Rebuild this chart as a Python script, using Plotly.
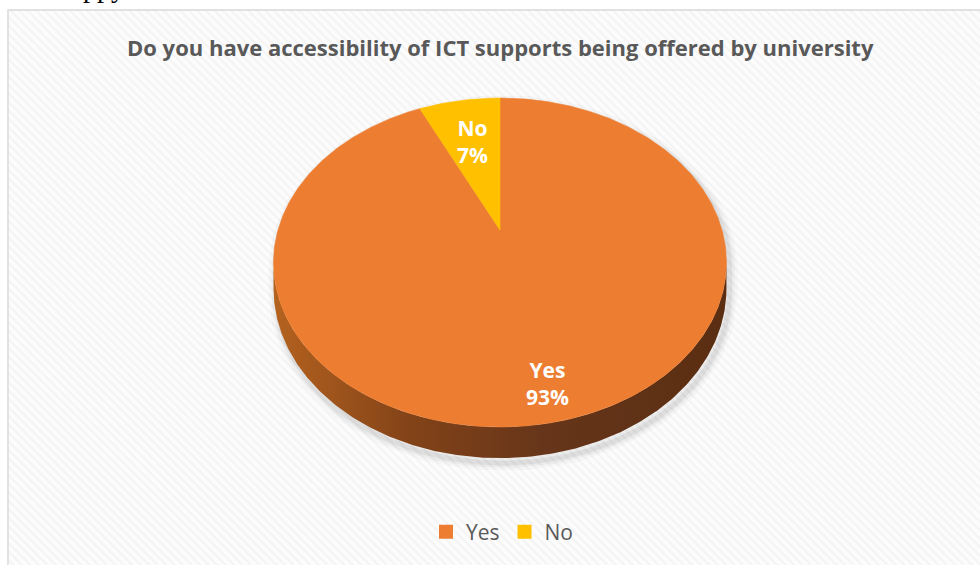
import math
import plotly.graph_objects as go

# ---- data ----
categories = ["Yes", "No"]
values = [93, 7]
colors = ["#ED7D31", "#FFC000"]
title_text = "Do you have accessibility of ICT supports being offered by university"

# ---- 3D pie geometry (pixel space, perspective disc) ----
W, H = 980, 565
CX, CY = 500.0, 230.0      # projected centre of the top face
A = 222.0                  # horizontal scale
E = 112.6                  # vertical scale
G = -0.1976                # perspective factor (near side larger)
DEPTH = 25.0               # extrusion thickness
label_radius = {"Yes": 0.83, "No": 0.65}


def project(theta_deg, r=1.0, depth=0.0):
    t = math.radians(theta_deg)
    u = r * math.sin(t)
    v = -r * math.cos(t)
    den = 1.0 + G * v
    x = CX + A * u / den
    y = (E * v + CY) / den + depth / den
    return x, y


def arc(a0, a1, depth=0.0, step=0.5):
    n = max(2, int(abs(a1 - a0) / step) + 1)
    pts = [project(a0 + (a1 - a0) * i / (n - 1), 1.0, depth) for i in range(n)]
    return [p[0] for p in pts], [p[1] for p in pts]


# find the leftmost / rightmost points of the top rim (silhouette tangents)
best_r, best_l = 90.0, 270.0
mx, mn = -1e9, 1e9
for i in range(0, 3600):
    th = i / 10.0
    x, _ = project(th)
    if x > mx:
        mx, best_r = x, th
    if x < mn:
        mn, best_l = x, th

fig = go.Figure()

# chart area background with fine diagonal texture
fig.add_trace(go.Scatter(
    x=[8, 990, 990, 8, 8], y=[10, 10, 575, 575, 10],
    mode="lines", fill="toself", line=dict(width=0),
    fillcolor="#fbfbfb",
    fillpattern=dict(shape="\\", fgcolor="#ececec", bgcolor="#fcfcfc", size=6, solidity=0.35),
    hoverinfo="skip", showlegend=False,
))

# soft shadow around the pie outline
sx1, sy1 = arc(best_l - 360, best_r)
sx2, sy2 = arc(best_r, best_l, DEPTH)
sil_x = sx1 + sx2 + [sx1[0]]
sil_y = sy1 + sy2 + [sy1[0]]
for w, a in [(16, 0.025), (10, 0.04), (5, 0.06)]:
    fig.add_trace(go.Scatter(
        x=[x + 3 for x in sil_x], y=[y + 5 for y in sil_y],
        mode="lines", line=dict(color=f"rgba(0,0,0,{a})", width=w),
        hoverinfo="skip", showlegend=False,
    ))

# side wall (front arc of the extruded disc)
tx, ty = arc(best_r, best_l)
bx, by = arc(best_l, best_r, DEPTH)
fig.add_trace(go.Scatter(
    x=tx + bx + [tx[0]], y=ty + by + [ty[0]],
    mode="lines", fill="toself", line=dict(width=0),
    fillgradient=dict(type="horizontal",
                      colorscale=[[0, "#b4621f"], [0.3, "#834318"], [0.6, "#66351a"], [1, "#5a2e12"]]),
    hoverinfo="skip", showlegend=False,
))

# top face slices
total = sum(values)
start = 0.0
label_ann = []
for cat, val, col in zip(categories, values, colors):
    sweep = 360.0 * val / total
    ax, ay = arc(start, start + sweep)
    fig.add_trace(go.Scatter(
        x=[CX] + ax + [CX], y=[CY] + ay + [CY],
        mode="lines", fill="toself", fillcolor=col,
        line=dict(width=0.6, color=col),
        name=cat, hoverinfo="name", showlegend=False,
    ))
    mid = start + sweep / 2.0
    lx, ly = project(mid, label_radius[cat])
    pct = round(100.0 * val / total)
    label_ann.append(dict(
        x=lx, y=ly + 1, xref="x", yref="y", showarrow=False,
        text=f"<b>{cat}<br>{pct}%</b>",
        font=dict(family="Open Sans", size=21, color="white"),
        align="center",
    ))
    start += sweep

# legend entries
for cat, col in zip(categories, colors):
    fig.add_trace(go.Scatter(
        x=[None], y=[None], mode="markers",
        marker=dict(symbol="square", size=14, color=col),
        name=cat, showlegend=True,
    ))

annotations = label_ann + [
    dict(x=500, y=47, xref="x", yref="y", showarrow=False,
         text=f"<b>{title_text}</b>",
         font=dict(family="Open Sans", size=22, color="#595959")),
    dict(x=104, y=5, xref="x", yref="y", showarrow=False, yanchor="bottom",
         text="ppy", font=dict(family="Liberation Serif", size=28, color="black")),
]

fig.update_layout(
    width=W, height=H,
    margin=dict(l=0, r=0, t=0, b=0),
    paper_bgcolor="white", plot_bgcolor="white",
    xaxis=dict(range=[0, W], visible=False, fixedrange=True),
    yaxis=dict(range=[H, 0], visible=False, fixedrange=True),
    showlegend=True,
    legend=dict(orientation="h", x=0.5 + 12 / W, xanchor="center", y=1 - 532 / H, yanchor="middle",
                font=dict(family="Open Sans", size=21, color="#595959"),
                bgcolor="rgba(0,0,0,0)", itemwidth=30, tracegroupgap=0),
    annotations=annotations,
    shapes=[dict(type="rect", xref="x", yref="y", x0=8, y0=10, x1=990, y1=575,
                 line=dict(color="#d9d9d9", width=1.5), fillcolor="rgba(0,0,0,0)")],
)

fig.write_html("out.html")
